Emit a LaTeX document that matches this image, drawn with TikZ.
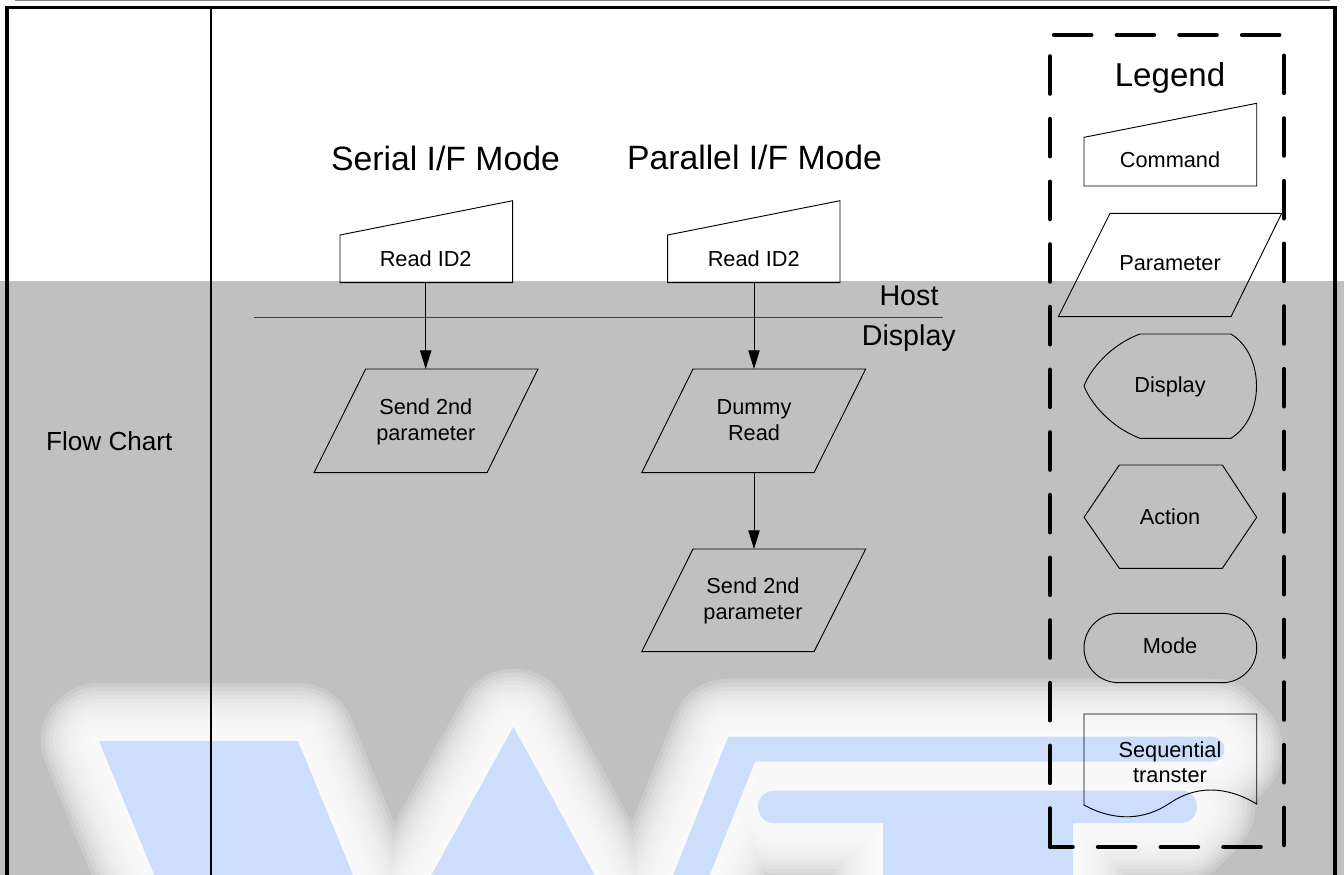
\documentclass[tikz,border=0pt]{standalone}
\usepackage{fontspec}
\setmainfont{Liberation Sans}
\usetikzlibrary{arrows.meta}
\definecolor{bggray}{RGB}{192,192,192}
\definecolor{wmblue}{RGB}{205,222,252}
\definecolor{topline}{RGB}{130,130,130}
\newcommand{\wmhalo}{(99,741) -- (298,741) -- (363.4,900) -- (164.7,900) -- cycle
 (513.4,726.7) -- (608.4,900) -- (417.6,900) -- cycle
 (728.3,736.7) -- (1212,736.7) -- (1224.5,749.2) -- (1212,761.7) -- (755,761.7) -- (699.7,900) -- (663.1,900) -- cycle
 (774,790.5) -- (1181,790.5) -- (1197,806.75) -- (1181,823) -- (1073.3,823) -- (1073.3,900) -- (882.5,900) -- (882.5,823) -- (774,823) -- (758,806.75) -- cycle}
\tikzset{
  lbl/.style={font=\fontsize{16.3}{19.5}\selectfont, inner sep=0pt, anchor=base, align=center},
  ttl/.style={font=\fontsize{25.3}{30}\selectfont, inner sep=0pt, anchor=base},
  hd/.style={font=\fontsize{21.5}{26}\selectfont, inner sep=0pt, anchor=base},
  shp/.style={draw=black, line width=0.7pt, line join=miter},
  conn/.style={draw=black, line width=0.75pt, -{Triangle[length=14pt,width=8.5pt]}},
  legbox/.style={draw=black, line width=3.2pt, line cap=round, dash pattern=on 28pt off 19pt, dash phase=11pt},
}
\begin{document}
\begin{tikzpicture}[x=0.75pt,y=-0.75pt]
\useasboundingbox (0,0) rectangle (1344,874);
\clip (0,0) rectangle (1344,874);
% background
\fill[white] (0,0) rectangle (1344,281);
\fill[bggray] (0,281) rectangle (1344,900);
% watermark halo (soft glow built from layered strokes)
\foreach \w in {87,81,75,69,63,57,51,45,39,33,27,21,15,9,4} {
  \draw[white, line width=\w pt, line join=round, opacity=0.19] \wmhalo;
}
% watermark letters
\fill[wmblue] (99,741) -- (298,741) -- (363.4,900) -- (164.7,900) -- cycle;
\fill[wmblue] (513.4,726.7) -- (608.4,900) -- (417.6,900) -- cycle;
\fill[wmblue] (728.3,736.7) -- (1212,736.7) -- (1212,761.7) -- (755,761.7) -- (699.7,900) -- (663.1,900) -- cycle;
\fill[wmblue] (1212,749.2) circle[radius=9.375pt];
\fill[wmblue, rounded corners=12pt] (758,790.5) rectangle (1197,823);
\fill[wmblue] (882.5,815) rectangle (1073.3,900);
% top rule and frame
\draw[topline, line width=1.1pt] (15,0.7) -- (1330,0.7);
\draw[line width=2.6pt] (7,900) -- (7,7.5) -- (1335,7.5) -- (1335,900);
\draw[line width=1.3pt] (211,7.5) -- (211,900);
% left label
\node[font=\fontsize{19.6}{24}\selectfont, inner sep=0pt, anchor=base] (fc) at (109.3,450) {Flow Chart};
% titles
\node[ttl] (tser) at (445.5,170) {Serial I/F Mode};
\node[ttl] (tpar) at (754.5,169) {Parallel I/F Mode};
% host / display separator
\coordinate (hl) at (254,317.7);
\coordinate (hr) at (943,317.7);
\draw[line width=0.8pt, black!75] (hl) -- (hr);
\node[hd] (host) at (909,305.7) {Host};
\node[hd] (disp) at (908.8,345.7) {Display};
% serial column
\draw[shp] (340,235) -- (512.7,200.7) -- (512.7,282.7) -- (340,282.7) -- cycle;
\node[lbl] (cmd1) at (425.7,266) {Read ID2};
\draw[shp] (365.7,369) -- (538,369) -- (487,472.7) -- (314,472.7) -- cycle;
\node[lbl] (par1) at (425.8,440) {Send 2nd\\parameter};
\coordinate (c1b) at (425.7,282.7);
\coordinate (p1t) at (425.7,369);
\draw[conn] (c1b) -- (p1t);
% parallel column
\draw[shp] (667.7,235) -- (840,200.7) -- (840,282.7) -- (667.7,282.7) -- cycle;
\node[lbl] (cmd2) at (753.7,266) {Read ID2};
\draw[shp] (693,369) -- (865.7,369) -- (814,472.7) -- (641.7,472.7) -- cycle;
\node[lbl] (dum) at (754,440.5) {Dummy\\Read};
\draw[shp] (693,549) -- (865.7,549) -- (814,651.7) -- (641.7,651.7) -- cycle;
\node[lbl] (par2) at (753,619.5) {Send 2nd\\parameter};
\coordinate (c2b) at (754,282.7);
\coordinate (d2t) at (754,369);
\coordinate (d2b) at (754,472.7);
\coordinate (p2t) at (754,549);
\draw[conn] (c2b) -- (d2t);
\draw[conn] (d2b) -- (p2t);
% legend
\draw[legbox] (1050,847) -- (1284,847) -- (1284,35) -- (1050,35) -- cycle;
\node[ttl, font=\fontsize{24.8}{30}\selectfont] (leg) at (1170,86.7) {Legend};
\draw[shp] (1084,137.3) -- (1256.7,103.3) -- (1256.7,186) -- (1084,186) -- cycle;
\node[lbl] (lcmd) at (1170,167.7) {Command};
\draw[shp] (1110,213.3) -- (1281.7,213.3) -- (1231,316.7) -- (1058.3,316.7) -- cycle;
\node[lbl] (lpar) at (1170,270.7) {Parameter};
\draw[shp] (1140,334) -- (1231,334) .. controls (1265,355) and (1265,417) .. (1231,438.3) -- (1140,438.3)
  .. controls (1110,427) and (1090,402) .. (1084,386) .. controls (1090,370) and (1110,345) .. (1140,334) -- cycle;
\node[lbl] (ldis) at (1170,392.3) {Display};
\draw[shp] (1084,517.3) -- (1119.3,465) -- (1222.3,465) -- (1256.7,517.3) -- (1222.3,568.3) -- (1119.3,568.3) -- cycle;
\node[lbl] (lact) at (1170,524) {Action};
\draw[shp, rounded corners=26pt] (1084,613.3) rectangle (1256.7,682.7);
\node[lbl] (lmod) at (1170,653.3) {Mode};
\draw[shp] (1084,805) -- (1084,714) -- (1256.7,714) -- (1256.7,804)
  .. controls (1225,785) and (1195,786) .. (1170,803) .. controls (1145,820) and (1115,822) .. (1084,805) -- cycle;
\node[lbl, font=\fontsize{16.3}{19}\selectfont] (lseq) at (1170,782.5) {Sequential\\transter};
\end{tikzpicture}
\end{document}
